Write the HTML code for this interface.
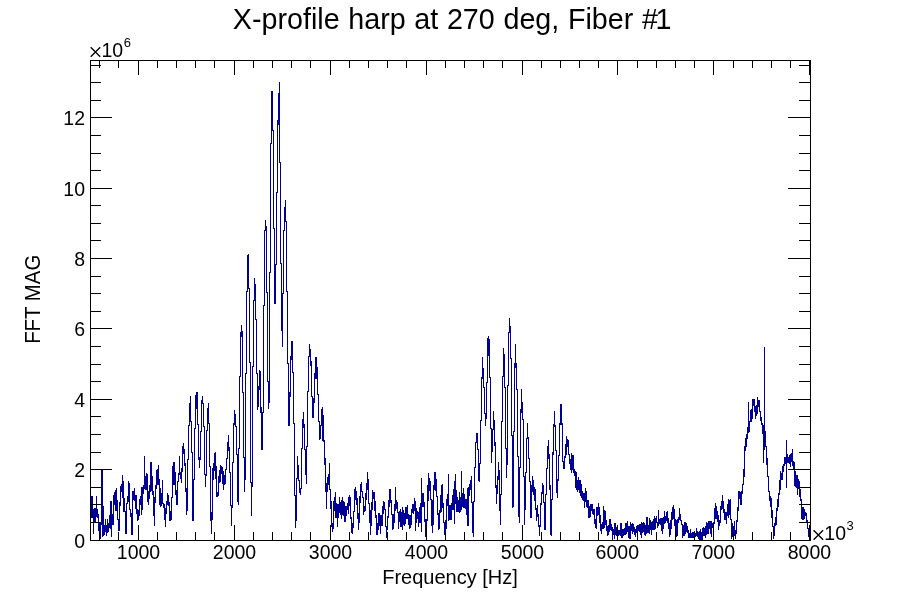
<!DOCTYPE html>
<html><head><meta charset="utf-8"><title>X-profile harp at 270 deg, Fiber #1</title>
<style>
html,body{margin:0;padding:0;background:#fff;}
body{width:900px;height:600px;overflow:hidden;}
svg{display:block;will-change:transform;font-family:"Liberation Sans",sans-serif;fill:#000;}
</style></head><body>
<svg width="900" height="600" viewBox="0 0 900 600">
<text x="232.8" y="29" font-size="28.7" word-spacing="0.68">X-profile harp at 270 deg, Fiber #<tspan dx="-2.5">1</tspan></text>
<g shape-rendering="crispEdges" fill="none" stroke="#000099" stroke-width="1"><path d="M91.5 496V518M92.5 496V518M93.5 509V534M94.5 508V522M95.5 508V522M96.5 496V517M97.5 509V518M98.5 514V531M99.5 523V539M100.5 523V539M101.5 470V525M102.5 470V537M103.5 506V536M104.5 525V535M105.5 519V532M106.5 525V536M107.5 519V533M108.5 523V532M109.5 515V528M110.5 501V529M111.5 501V537M112.5 514V525M113.5 495V525M114.5 492V505M115.5 490V511M116.5 488V511M117.5 500V520M118.5 519V531M119.5 502V531M120.5 486V506M121.5 484V492M122.5 475V498M123.5 481V512M124.5 498V512M125.5 511V534M126.5 503V534M127.5 496V504M128.5 481V502M129.5 483V510M130.5 509V517M131.5 513V535M132.5 491V535M133.5 491V500M134.5 488V501M135.5 495V509M136.5 495V514M137.5 509V521M138.5 510V520M139.5 499V516M140.5 496V505M141.5 487V515M142.5 487V510M143.5 485V494M144.5 456V489M145.5 476V490M146.5 473V490M147.5 474V502M148.5 491V505M149.5 485V499M150.5 462V492M151.5 462V491M152.5 476V495M153.5 491V516M154.5 497V526M155.5 485V503M156.5 470V489M157.5 469V485M158.5 465V485M159.5 479V505M160.5 488V507M161.5 493V506M162.5 480V504M163.5 503V508M164.5 504V520M165.5 508V527M166.5 501V514M167.5 493V505M168.5 495V506M169.5 502V521M170.5 511V521M171.5 497V520M172.5 466V498M173.5 462V485M174.5 462V485M175.5 472V495M176.5 490V505M177.5 481V505M178.5 473V482M179.5 456V475M180.5 472V479M181.5 468V483M182.5 446V472M183.5 443V454M184.5 449V466M185.5 463V492M186.5 488V515M187.5 459V511M188.5 425V460M189.5 403V426M190.5 396V422M191.5 421V453M192.5 452V521M193.5 479V521M194.5 428V480M195.5 395V429M196.5 392V409M197.5 392V425M198.5 424V460M199.5 457V468M200.5 431V460M201.5 400V432M202.5 396V404M203.5 403V427M204.5 426V475M205.5 474V487M206.5 430V476M207.5 408V431M208.5 403V424M209.5 423V467M210.5 466V521M211.5 512V534M212.5 468V520M213.5 463V480M214.5 453V471M215.5 452V479M216.5 466V497M217.5 492V497M218.5 476V496M219.5 470V483M220.5 465V482M221.5 466V474M222.5 467V484M223.5 471V490M224.5 475V485M225.5 469V484M226.5 458V470M227.5 442V459M228.5 435V451M229.5 447V473M230.5 472V506M231.5 505V526M232.5 462V508M233.5 423V463M234.5 410V425M235.5 414V427M236.5 426V455M237.5 454V502M238.5 448V505M239.5 376V449M240.5 332V377M241.5 325V337M242.5 331V393M243.5 392V458M244.5 457V492M245.5 373V480M246.5 291V374M247.5 255V292M248.5 254V289M249.5 288V363M250.5 362V483M251.5 482V516M252.5 366V487M253.5 300V367M254.5 278V301M255.5 284V320M256.5 319V374M257.5 373V410M258.5 386V407M259.5 370V390M260.5 371V413M261.5 407V450M262.5 412V450M263.5 305V413M264.5 230V306M265.5 220V231M266.5 226V293M267.5 292V382M268.5 381V409M269.5 272V403M270.5 143V273M271.5 91V144M272.5 91V131M273.5 130V229M274.5 228V304M275.5 264V304M276.5 192V265M277.5 120V193M278.5 93V125M279.5 82V163M280.5 162V264M281.5 263V331M282.5 293V347M283.5 230V294M284.5 207V231M285.5 200V222M286.5 221V292M287.5 291V364M288.5 363V426M289.5 392V426M290.5 356V397M291.5 341V360M292.5 341V373M293.5 372V424M294.5 423V496M295.5 495V528M296.5 478V521M297.5 456V479M298.5 465V481M299.5 480V493M300.5 488V495M301.5 448V489M302.5 419V449M303.5 412V428M304.5 424V450M305.5 449V475M306.5 446V484M307.5 391V447M308.5 356V392M309.5 344V357M310.5 349V366M311.5 361V397M312.5 396V418M313.5 398V418M314.5 373V403M315.5 357V379M316.5 357V379M317.5 367V395M318.5 394V422M319.5 421V440M320.5 425V439M321.5 409V426M322.5 407V441M323.5 415V442M324.5 440V465M325.5 458V492M326.5 483V509M327.5 477V492M328.5 474V485M329.5 463V490M330.5 489V509M331.5 501V527M332.5 523V532M333.5 501V529M334.5 497V511M335.5 492V518M336.5 503V518M337.5 504V527M338.5 504V518M339.5 497V513M340.5 502V515M341.5 500V519M342.5 497V515M343.5 501V516M344.5 502V522M345.5 506V522M346.5 506V516M347.5 503V510M348.5 497V514M349.5 495V506M350.5 497V519M351.5 517V533M352.5 523V534M353.5 511V528M354.5 489V512M355.5 487V500M356.5 491V505M357.5 498V519M358.5 513V530M359.5 496V523M360.5 484V503M361.5 482V492M362.5 491V498M363.5 497V515M364.5 506V512M365.5 493V511M366.5 483V500M367.5 472V490M368.5 479V504M369.5 503V523M370.5 510V535M371.5 502V526M372.5 490V510M373.5 492V499M374.5 492V511M375.5 501V518M376.5 515V535M377.5 523V535M378.5 513V530M379.5 513V526M380.5 515V534M381.5 515V526M382.5 506V526M383.5 501V514M384.5 502V510M385.5 509V527M386.5 526V538M387.5 516V530M388.5 500V518M389.5 489V507M390.5 489V503M391.5 500V515M392.5 514V530M393.5 514V529M394.5 504V523M395.5 487V511M396.5 500V509M397.5 502V513M398.5 512V529M399.5 511V522M400.5 509V527M401.5 512V527M402.5 507V530M403.5 510V525M404.5 513V526M405.5 507V524M406.5 507V519M407.5 505V519M408.5 514V525M409.5 515V529M410.5 515V528M411.5 509V525M412.5 504V513M413.5 504V514M414.5 498V511M415.5 501V531M416.5 508V523M417.5 511V519M418.5 512V527M419.5 507V523M420.5 503V523M421.5 478V532M422.5 493V507M423.5 493V507M424.5 502V522M425.5 519V537M426.5 519V525M427.5 485V521M428.5 473V501M429.5 478V491M430.5 481V500M431.5 499V526M432.5 500V533M433.5 485V525M434.5 472V490M435.5 472V491M436.5 479V497M437.5 496V515M438.5 513V530M439.5 510V529M440.5 495V513M441.5 485V512M442.5 484V508M443.5 503V523M444.5 522V535M445.5 520V532M446.5 499V529M447.5 494V506M448.5 474V521M449.5 505V520M450.5 505V520M451.5 503V520M452.5 495V510M453.5 489V510M454.5 481V524M455.5 474V504M456.5 490V512M457.5 497V512M458.5 500V512M459.5 492V513M460.5 497V512M461.5 471V510M462.5 493V507M463.5 488V508M464.5 494V508M465.5 499V509M466.5 499V515M467.5 488V526M468.5 487V526M469.5 484V496M470.5 480V490M471.5 476V503M472.5 502V533M473.5 501V537M474.5 467V502M475.5 442V468M476.5 433V443M477.5 433V450M478.5 449V481M479.5 463V482M480.5 420V464M481.5 377V421M482.5 357V379M483.5 368V388M484.5 387V414M485.5 413V426M486.5 382V419M487.5 338V383M488.5 336V356M489.5 339V378M490.5 377V429M491.5 428V463M492.5 429V452M493.5 411V430M494.5 420V446M495.5 442V488M496.5 485V504M497.5 476V494M498.5 462V480M499.5 470V511M500.5 494V525M501.5 421V495M502.5 376V422M503.5 348V377M504.5 354V388M505.5 387V449M506.5 448V478M507.5 385V465M508.5 332V386M509.5 318V333M510.5 326V359M511.5 358V436M512.5 435V508M513.5 431V507M514.5 363V432M515.5 344V368M516.5 363V390M517.5 389V457M518.5 456V517M519.5 467V523M520.5 409V468M521.5 389V413M522.5 402V420M523.5 419V477M524.5 476V525M525.5 472V510M526.5 438V473M527.5 423V439M528.5 437V459M529.5 458V482M530.5 481V518M531.5 485V518M532.5 476V492M533.5 480V495M534.5 487V501M535.5 489V510M536.5 508V521M537.5 505V517M538.5 514V527M539.5 525V536M540.5 503V527M541.5 492V505M542.5 483V494M543.5 485V503M544.5 502V530M545.5 494V530M546.5 468V495M547.5 446V469M548.5 440V459M549.5 454V490M550.5 485V535M551.5 499V536M552.5 452V500M553.5 424V455M554.5 411V427M555.5 425V451M556.5 450V493M557.5 479V498M558.5 455V481M559.5 423V456M560.5 404V425M561.5 404V425M562.5 423V462M563.5 461V469M564.5 456V469M565.5 444V458M566.5 436V455M567.5 439V447M568.5 440V455M569.5 454V464M570.5 459V470M571.5 453V473M572.5 455V470M573.5 455V473M574.5 469V476M575.5 471V488M576.5 472V490M577.5 480V492M578.5 477V490M579.5 480V493M580.5 480V496M581.5 484V498M582.5 491V500M583.5 493V501M584.5 493V508M585.5 488V502M586.5 491V507M587.5 500V508M588.5 500V518M589.5 506V518M590.5 504V517M591.5 504V511M592.5 504V514M593.5 509V515M594.5 509V524M595.5 519V528M596.5 507V529M597.5 507V516M598.5 503V515M599.5 507V523M600.5 515V531M601.5 524V534M602.5 522V529M603.5 506V529M604.5 510V528M605.5 511V525M606.5 520V531M607.5 526V536M608.5 525V535M609.5 519V532M610.5 519V530M611.5 524V531M612.5 527V540M613.5 529V535M614.5 523V539M615.5 523V535M616.5 527V536M617.5 525V537M618.5 530V536M619.5 530V535M620.5 523V536M621.5 523V538M622.5 529V538M623.5 529V536M624.5 528V535M625.5 523V535M626.5 523V534M627.5 521V532M628.5 526V538M629.5 526V539M630.5 522V539M631.5 524V531M632.5 523V534M633.5 524V532M634.5 527V535M635.5 529V537M636.5 526V533M637.5 525V532M638.5 525V531M639.5 524V532M640.5 524V535M641.5 522V538M642.5 523V533M643.5 522V532M644.5 523V535M645.5 525V536M646.5 517V534M647.5 517V533M648.5 525V533M649.5 518V534M650.5 520V530M651.5 522V535M652.5 521V530M653.5 519V530M654.5 516V530M655.5 518V529M656.5 516V523M657.5 522V528M658.5 510V526M659.5 519V524M660.5 518V525M661.5 518V531M662.5 518V534M663.5 517V529M664.5 511V524M665.5 516V523M666.5 512V521M667.5 511V523M668.5 518V529M669.5 523V537M670.5 520V535M671.5 512V529M672.5 507V520M673.5 505V519M674.5 509V526M675.5 519V533M676.5 520V537M677.5 519V536M678.5 517V523M679.5 508V520M680.5 514V521M681.5 520V525M682.5 524V538M683.5 525V536M684.5 522V536M685.5 522V534M686.5 523V532M687.5 526V533M688.5 530V538M689.5 533V538M690.5 529V538M691.5 533V538M692.5 532V538M693.5 532V538M694.5 531V538M695.5 533V537M696.5 528V536M697.5 531V537M698.5 532V539M699.5 531V540M700.5 529V540M701.5 532V540M702.5 528V540M703.5 527V536M704.5 528V536M705.5 526V538M706.5 522V535M707.5 523V534M708.5 521V534M709.5 521V529M710.5 521V534M711.5 521V537M712.5 523V528M713.5 522V528M714.5 508V524M715.5 503V519M716.5 506V519M717.5 511V522M718.5 515V530M719.5 520V526M720.5 506V523M721.5 501V510M722.5 495V509M723.5 501V513M724.5 509V520M725.5 512V520M726.5 512V524M727.5 504V516M728.5 499V518M729.5 500V515M730.5 499V520M731.5 519V539M732.5 523V537M733.5 526V533M734.5 521V536M735.5 530V539M736.5 520V534M737.5 507V522M738.5 491V511M739.5 491V499M740.5 492V505M741.5 491V505M742.5 484V494M743.5 469V485M744.5 446V477M745.5 438V451M746.5 434V447M747.5 427V439M748.5 402V433M749.5 421V432M750.5 410V422M751.5 409V422M752.5 399V419M753.5 399V406M754.5 399V412M755.5 406V419M756.5 405V416M757.5 397V414M758.5 400V407M759.5 400V412M760.5 411V421M761.5 417V425M762.5 423V434M763.5 425V463M764.5 347V450M765.5 431V447M766.5 446V465M767.5 458V477M768.5 476V492M769.5 491V501M770.5 496V507M771.5 498V518M772.5 510V527M773.5 526V539M774.5 523V536M775.5 517V526M776.5 508V525M777.5 499V511M778.5 493V507M779.5 480V495M780.5 471V490M781.5 473V480M782.5 466V480M783.5 464V472M784.5 457V466M785.5 457V464M786.5 440V488M787.5 454V463M788.5 457V463M789.5 455V464M790.5 454V467M791.5 453V462M792.5 449V466M793.5 461V469M794.5 462V486M795.5 471V487M796.5 475V488M797.5 475V495M798.5 479V489M799.5 481V497M800.5 489V501M801.5 499V519M802.5 507V520M803.5 507V520M804.5 509V519M805.5 512V516M806.5 513V523M807.5 520V529M808.5 528V537M809.5 535V540"/></g>
<g shape-rendering="crispEdges" fill="none" stroke="#000" stroke-width="1">
<rect x="90.5" y="60.5" width="720" height="480"/>
<path d="M99.5 532V540M99.5 61V68M118.5 532V540M118.5 61V68M138.5 525V540M138.5 61V75M157.5 532V540M157.5 61V68M176.5 532V540M176.5 61V68M195.5 532V540M195.5 61V68M214.5 532V540M214.5 61V68M234.5 525V540M234.5 61V75M253.5 532V540M253.5 61V68M272.5 532V540M272.5 61V68M291.5 532V540M291.5 61V68M310.5 532V540M310.5 61V68M330.5 525V540M330.5 61V75M349.5 532V540M349.5 61V68M368.5 532V540M368.5 61V68M387.5 532V540M387.5 61V68M406.5 532V540M406.5 61V68M426.5 525V540M426.5 61V75M445.5 532V540M445.5 61V68M464.5 532V540M464.5 61V68M483.5 532V540M483.5 61V68M502.5 532V540M502.5 61V68M522.5 525V540M522.5 61V75M541.5 532V540M541.5 61V68M560.5 532V540M560.5 61V68M579.5 532V540M579.5 61V68M598.5 532V540M598.5 61V68M617.5 525V540M617.5 61V75M637.5 532V540M637.5 61V68M656.5 532V540M656.5 61V68M675.5 532V540M675.5 61V68M694.5 532V540M694.5 61V68M713.5 525V540M713.5 61V75M733.5 532V540M733.5 61V68M752.5 532V540M752.5 61V68M771.5 532V540M771.5 61V68M790.5 532V540M790.5 61V68M809.5 525V540M809.5 61V75M91 522.5H101M799 522.5H810M91 504.5H101M799 504.5H810M91 487.5H101M799 487.5H810M91 469.5H112M788 469.5H810M91 452.5H101M799 452.5H810M91 434.5H101M799 434.5H810M91 416.5H101M799 416.5H810M91 399.5H112M788 399.5H810M91 381.5H101M799 381.5H810M91 364.5H101M799 364.5H810M91 346.5H101M799 346.5H810M91 328.5H112M788 328.5H810M91 311.5H101M799 311.5H810M91 293.5H101M799 293.5H810M91 276.5H101M799 276.5H810M91 258.5H112M788 258.5H810M91 240.5H101M799 240.5H810M91 223.5H101M799 223.5H810M91 205.5H101M799 205.5H810M91 188.5H112M788 188.5H810M91 170.5H101M799 170.5H810M91 153.5H101M799 153.5H810M91 135.5H101M799 135.5H810M91 117.5H112M788 117.5H810M91 100.5H101M799 100.5H810M91 82.5H101M799 82.5H810M91 65.5H101M799 65.5H810"/>
</g>
<g font-size="19.5">
<text x="138.5" y="559" text-anchor="middle">1000</text><text x="234.5" y="559" text-anchor="middle">2000</text><text x="330.5" y="559" text-anchor="middle">3000</text><text x="426.5" y="559" text-anchor="middle">4000</text><text x="522.5" y="559" text-anchor="middle">5000</text><text x="617.3" y="559" text-anchor="middle">6000</text><text x="713.3" y="559" text-anchor="middle">7000</text><text x="809.4" y="559" text-anchor="middle">8000</text>
<text x="85" y="547.5" text-anchor="end">0</text><text x="85" y="477.1" text-anchor="end">2</text><text x="85" y="406.8" text-anchor="end">4</text><text x="85" y="336.4" text-anchor="end">6</text><text x="85" y="266.1" text-anchor="end">8</text><text x="85" y="195.7" text-anchor="end">10</text><text x="85" y="125.3" text-anchor="end">12</text>
<text x="450" y="583.5" text-anchor="middle" font-size="20">Frequency [Hz]</text>
<text transform="translate(40.4,299.3) rotate(-90) scale(1,1.07)" text-anchor="middle" font-size="20.4">FFT MAG</text>
<path d="M90.7 47.2L100.2 56.7M100.2 47.2L90.7 56.7" stroke="#000" stroke-width="1.35" fill="none"/><text x="101.4" y="57">10<tspan font-size="13" dx="0.6" dy="-10">6</tspan></text>
<path d="M813.6 530.2L823.1 539.7M823.1 530.2L813.6 539.7" stroke="#000" stroke-width="1.35" fill="none"/><text x="824.3" y="540">10<tspan font-size="13" dx="0.6" dy="-10">3</tspan></text>
</g>
</svg>
</body></html>
